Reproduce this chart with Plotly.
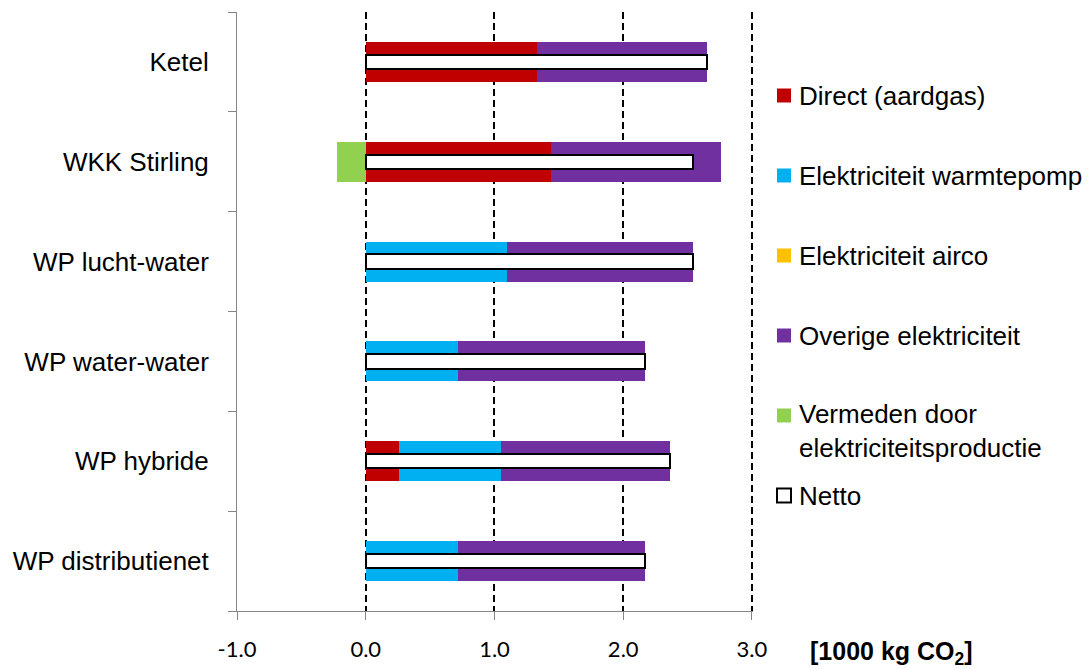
import plotly.graph_objects as go

# CO2-uitstoot per verwarmingssysteem, in 1000 kg CO2 per jaar
categories = ["Ketel", "WKK Stirling", "WP lucht-water", "WP water-water",
              "WP hybride", "WP distributienet"]
direct_aardgas = [1.33, 1.44, 0.0, 0.0, 0.26, 0.0]
elek_warmtepomp = [0.0, 0.0, 1.10, 0.72, 0.79, 0.72]
elek_airco = [0.0, 0.0, 0.0, 0.0, 0.0, 0.0]
overige_elek = [1.32, 1.32, 1.44, 1.45, 1.31, 1.45]
vermeden = [0.0, -0.22, 0.0, 0.0, 0.0, 0.0]
netto = [2.65, 2.54, 2.54, 2.17, 2.36, 2.17]

series_names = ["Direct (aardgas)", "Elektriciteit warmtepomp", "Elektriciteit airco",
                "Overige elektriciteit", "Vermeden door<br>elektriciteitsproductie"]
series_values = [direct_aardgas, elek_warmtepomp, elek_airco, overige_elek, vermeden]
series_colors = ["#C00000", "#00B0F0", "#FFC000", "#7030A0", "#92D050"]
netto_name = "Netto"

x_ticks = [-1.0, 0.0, 1.0, 2.0, 3.0]
x_title = "<b>[1000 kg CO<sub>2</sub>]</b>"

W, H = 1091, 669
ML, MR, MT, MB = 237, 338, 12, 58
PW, PH = W - ML - MR, H - MT - MB

LABEL_FONT = "Liberation Sans, Arial, sans-serif"
AXIS_GRAY = "#868686"

pos = list(range(len(categories)))

fig = go.Figure()

for name, vals, col in zip(series_names, series_values, series_colors):
    fig.add_trace(go.Bar(
        y=pos, x=vals, orientation="h", name=name.replace("<br>", " "),
        marker=dict(color=col, line=dict(width=0)), width=0.4,
        showlegend=False, hoverinfo="x+name",
    ))

# Netto as a narrow outlined bar on an overlaid category axis
fig.add_trace(go.Bar(
    y=pos, x=netto, orientation="h", name=netto_name, yaxis="y2",
    marker=dict(color="white", line=dict(color="black", width=2)), width=0.145,
    showlegend=False, hoverinfo="x+name",
))

yrange = [len(categories) - 0.5, -0.5]
boundaries = [i - 0.5 for i in range(len(categories) + 1)]

fig.update_layout(
    width=W, height=H,
    margin=dict(l=ML, r=MR, t=MT, b=MB, pad=0),
    paper_bgcolor="white", plot_bgcolor="white",
    barmode="relative", bargap=0,
    xaxis=dict(
        # a hair past 3.0 so the dashed grid line at 3.0 is kept
        range=[x_ticks[0], x_ticks[-1] + 0.008], tickvals=x_ticks,
        ticktext=[f"{v:.1f}" for v in x_ticks],
        showgrid=True, gridcolor="black", gridwidth=1.5, griddash="7px,4px",
        zeroline=False, showline=True, linecolor=AXIS_GRAY, linewidth=1,
        ticks="outside", ticklen=8, tickcolor=AXIS_GRAY, tickwidth=1,
        tickfont=dict(family="Lato, Open Sans, sans-serif", size=22, color="black"),
        ticklabelstandoff=11, automargin=False, fixedrange=True,
    ),
    yaxis=dict(
        range=yrange, tickvals=pos, ticktext=categories, ticks="",
        showgrid=False, zeroline=False, showline=True, linecolor=AXIS_GRAY, linewidth=1,
        tickfont=dict(family=LABEL_FONT, size=26, color="black"),
        ticklabelstandoff=22, automargin=False,
        minor=dict(tickvals=boundaries, ticks="outside", ticklen=8,
                   tickcolor=AXIS_GRAY, tickwidth=1, showgrid=False),
        fixedrange=True,
    ),
    yaxis2=dict(range=yrange, overlaying="y", visible=False, automargin=False,
                fixedrange=True),
    showlegend=False,
)


def px_x(px):
    return (px - ML) / PW


def px_y(py):
    return (H - MB - py) / PH


# axis title to the right of the tick labels
fig.add_annotation(
    text=x_title, xref="paper", yref="paper", x=px_x(808), y=px_y(653),
    xanchor="left", yanchor="middle", showarrow=False,
    font=dict(family=LABEL_FONT, size=25, color="black"),
)

# legend column
leg_items = list(zip(series_names, series_colors)) + [(netto_name, None)]
sq = 14
for i, (name, col) in enumerate(leg_items):
    cy = 95.5 + 80 * i
    fig.add_shape(
        type="rect", xref="paper", yref="paper",
        x0=px_x(777), x1=px_x(777 + sq), y0=px_y(cy + sq / 2), y1=px_y(cy - sq / 2),
        fillcolor=col if col else "white",
        line=dict(color="black", width=2) if col is None else dict(width=0),
    )
    nlines = name.count("<br>") + 1
    fig.add_annotation(
        text=name, xref="paper", yref="paper", x=px_x(797),
        y=px_y(cy + (nlines - 1) * 15), xanchor="left", yanchor="middle",
        align="left", showarrow=False,
        font=dict(family=LABEL_FONT, size=26, color="black"),
    )

fig.write_html("out.html", config={"displayModeBar": False})
